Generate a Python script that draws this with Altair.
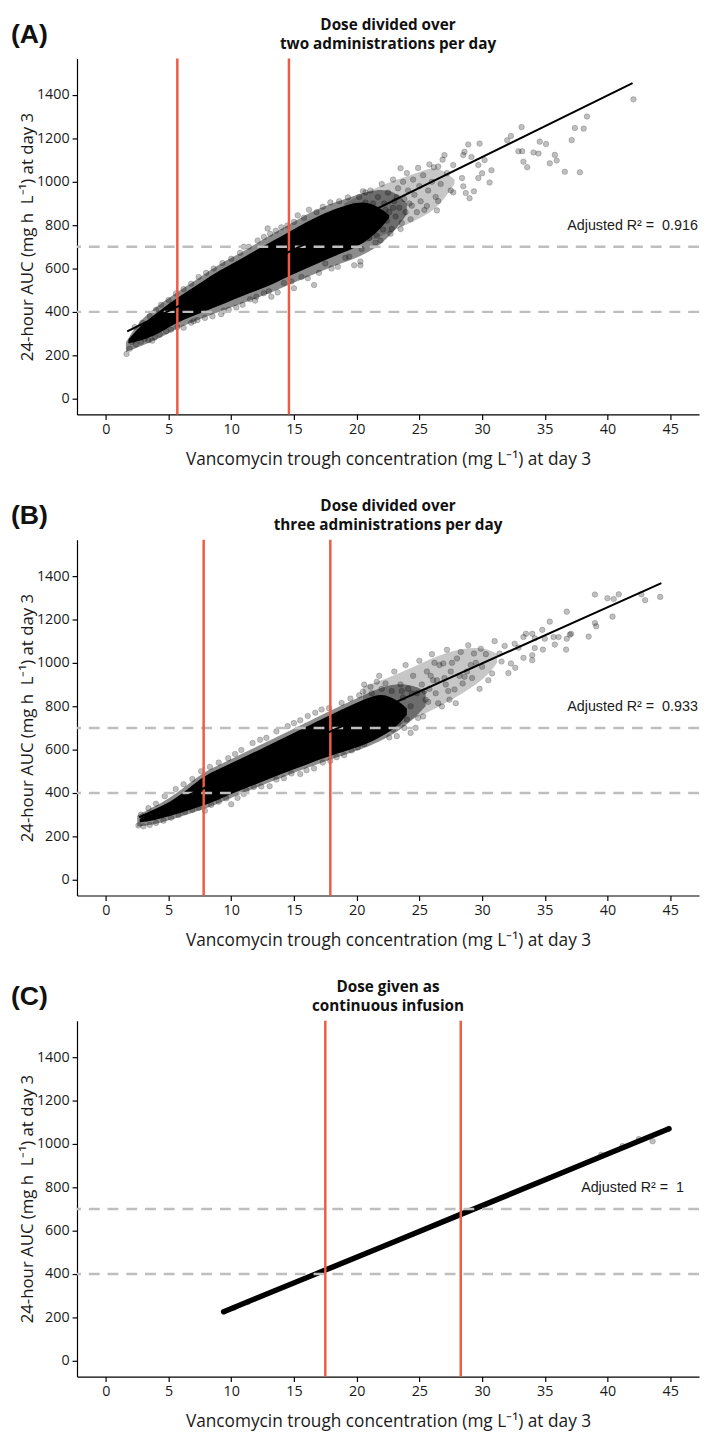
import altair as alt
import pandas as pd

# ---------------- text ----------------
x_title = "Vancomycin trough concentration (mg L\u207b\u00b9) at day 3"
y_title = "24-hour AUC (mg h \u00a0L\u207b\u00b9) at day 3"
panel_labels = ["(A)", "(B)", "(C)"]
panel_titles = [
    ["Dose divided over", "two administrations per day"],
    ["Dose divided over", "three administrations per day"],
    ["Dose given as", "continuous infusion"],
]
r2_labels = ["Adjusted R\u00b2 =\u00a0 0.916", "Adjusted R\u00b2 =\u00a0 0.933", "Adjusted R\u00b2 =\u00a0 1"]
r2_pos = [42.0, 797]

# ---------------- ticks ----------------
x_ticks = [0, 5, 10, 15, 20, 25, 30, 35, 40, 45]
y_ticks = [0, 200, 400, 600, 800, 1000, 1200, 1400]

# ---------------- reference lines ----------------
target_auc = [400, 700]
a_cut = [5.7, 14.6]
b_cut = [7.8, 17.9]
c_cut = [17.5, 28.3]

# ---------------- regression lines ----------------
a_reg_x = [1.7, 42.0]
a_reg_y = [310, 1455]
b_reg_x = [2.66, 44.3]
b_reg_y = [288, 1368]

# ---------------- cloud outlines ----------------
# saturated core (points fully overlapping)
a_core_x = [1.8, 2.5, 3.5, 4.5, 5.7, 7.0, 8.3, 9.6, 10.9, 12.2, 13.4, 14.6, 16.0, 17.5, 18.8, 20.0, 21.0, 22.0, 22.6]
a_core_lo = [255, 262, 282, 310, 352, 382, 413, 442, 474, 502, 530, 565, 600, 640, 670, 700, 735, 790, 835]
a_core_hi = [272, 322, 370, 415, 466, 512, 565, 608, 648, 692, 730, 768, 815, 858, 885, 905, 905, 875, 845]
# soft fringe around the core
a_halo_x = [1.6, 2.5, 3.5, 4.5, 5.7, 7.0, 8.3, 9.6, 10.9, 12.2, 13.4, 14.6, 16.0, 17.5, 18.8, 20.0, 21.5, 23.0, 24.0]
a_halo_lo = [215, 235, 258, 285, 325, 355, 385, 412, 440, 468, 495, 525, 560, 595, 625, 650, 690, 770, 850]
a_halo_hi = [260, 345, 398, 445, 492, 540, 592, 638, 676, 722, 765, 802, 850, 890, 915, 940, 965, 960, 900]
# thinner zone of overlapping points further out
a_mid_x = [19.0, 20.5, 22.0, 23.5, 25.0, 26.5, 27.8]
a_mid_lo = [690, 715, 750, 790, 830, 880, 990]
a_mid_hi = [900, 945, 985, 1015, 1045, 1075, 1010]

b_core_x = [2.7, 3.5, 4.4, 5.5, 6.6, 7.8, 9.0, 10.5, 12.2, 14.0, 15.8, 17.7, 19.3, 20.9, 22.0, 23.2, 24.0]
b_core_lo = [264, 270, 282, 300, 320, 342, 370, 407, 446, 487, 527, 567, 597, 628, 660, 705, 760]
b_core_hi = [280, 312, 336, 372, 420, 478, 510, 551, 598, 648, 700, 754, 798, 838, 860, 830, 790]
b_halo_x = [2.5, 3.5, 4.4, 5.5, 6.6, 7.8, 9.0, 10.5, 12.2, 14.0, 15.8, 17.7, 19.3, 20.9, 22.5, 24.2, 25.5]
b_halo_lo = [245, 252, 262, 282, 302, 325, 352, 390, 430, 470, 510, 550, 580, 612, 655, 720, 800]
b_halo_hi = [295, 328, 352, 392, 442, 496, 528, 570, 618, 668, 720, 774, 818, 860, 900, 905, 870]
b_mid_x = [20.5, 22.5, 24.5, 26.5, 28.5, 30.3, 31.2]
b_mid_lo = [640, 690, 740, 795, 860, 930, 1000]
b_mid_hi = [890, 930, 980, 1035, 1070, 1070, 1040]

# continuous infusion: points collapse onto a narrow band
c_band_x = [9.4, 12.0, 17.5, 23.2, 28.3, 35.9, 40.0, 44.9]
c_band_y = [226, 288, 418, 553, 675, 855, 953, 1070]

# ---------------- individual points (trough, AUC) ----------------
a_points = [
    (1.65, 206), (1.9, 230), (2.05, 261), (2.4, 250), (2.8, 262), (3.1, 276), (3.4, 270), (3.7, 267),
    (3.9, 282), (4.3, 295), (4.8, 310), (5.2, 318), (5.7, 330), (6.2, 327), (6.8, 350), (7.3, 362),
    (7.9, 372), (8.5, 380), (9.2, 389), (9.8, 410), (10.4, 420), (10.9, 433), (11.5, 458), (12.0, 470),
    (12.6, 486), (13.0, 495), (13.7, 490), (14.2, 533), (14.8, 540), (15.6, 561), (16.1, 555), (16.6, 524),
    (17.0, 580), (17.5, 623), (18.0, 600), (18.5, 608), (19.1, 650), (19.4, 655), (19.8, 615), (20.3, 632),
    (20.3, 615), (11.9, 452), (13.2, 470), (15.0, 509), (7.0, 357), (9.4, 405),
    (2.3, 330), (2.9, 350), (3.5, 380), (4.0, 410), (4.4, 433), (5.0, 455), (5.6, 485), (6.2, 505),
    (6.8, 530), (7.4, 561), (8.0, 580), (8.6, 600), (9.3, 625), (10.0, 645), (10.7, 672), (11.0, 700),
    (11.4, 700), (12.1, 729), (12.6, 745), (12.9, 785), (13.1, 760), (13.55, 774), (14.0, 790), (14.47, 798),
    (15.0, 815), (15.3, 845), (15.8, 834), (16.2, 871), (16.8, 860), (17.3, 885), (17.9, 905), (18.6, 910),
    (19.3, 928), (20.5, 956), (20.7, 951),
    (19.2, 700), (19.5, 760), (19.6, 840), (19.8, 890), (20.0, 720), (20.1, 800), (20.2, 930), (20.3, 860),
    (20.4, 690), (20.6, 770), (20.7, 905), (20.9, 830), (21.0, 740), (21.1, 960), (21.2, 880), (21.4, 800),
    (21.5, 720), (21.6, 751), (21.7, 930), (21.8, 850), (21.9, 729), (22.0, 990), (22.1, 780), (22.2, 900),
    (22.4, 820), (22.5, 950), (22.6, 860), (22.7, 760), (22.8, 782), (22.9, 1010), (23.0, 910), (23.1, 840),
    (23.3, 970), (23.4, 880), (23.5, 782), (23.5, 1062), (23.6, 810), (23.7, 1000), (23.8, 920), (23.9, 860),
    (24.0, 1040), (24.1, 960), (24.3, 827), (24.4, 890), (24.5, 1010), (24.6, 940), (24.8, 860), (24.9, 1064),
    (25.0, 980), (25.1, 910), (25.3, 1030), (25.4, 870), (25.6, 888), (25.7, 960), (25.8, 1080), (26.0, 1000),
    (26.15, 1067), (26.3, 930), (26.4, 868), (26.5, 911), (26.5, 1070), (26.7, 990), (26.85, 1102), (27.0, 1123),
    (27.2, 1040), (27.5, 960), (27.7, 951), (27.7, 1077),
    (20.8, 850), (21.3, 900), (22.3, 870), (23.2, 930), (24.2, 900), (19.9, 780), (21.9, 810), (22.9, 880),
    (28.4, 1017), (28.5, 979), (28.5, 1123), (28.6, 1138), (28.7, 948), (28.9, 1172), (29.0, 924), (29.15, 1114),
    (29.35, 956), (29.7, 1017), (29.7, 1077), (29.8, 1176), (30.0, 1039), (30.2, 1100), (30.6, 997), (30.75, 1053),
    (32.0, 1191), (32.3, 1211), (32.9, 1141), (33.15, 1252), (33.2, 1141), (33.3, 1092), (33.6, 1067), (34.1, 1135),
    (34.5, 1130), (34.6, 1185), (35.1, 1174), (35.4, 1085), (35.8, 1124), (35.95, 1098), (36.6, 1046), (37.15, 1192),
    (37.4, 1248), (37.8, 1044), (38.1, 1245), (38.36, 1301), (42.07, 1380),
]

b_points = [
    (2.6, 250), (3.0, 246), (3.5, 252), (4.0, 262), (4.6, 272), (5.2, 286), (5.8, 298), (6.3, 312),
    (6.9, 322), (7.4, 332), (7.9, 318), (8.4, 345), (9.0, 360), (9.6, 375), (10.0, 348), (10.5, 377),
    (11.2, 412), (11.8, 428), (12.4, 430), (13.06, 431), (13.6, 462), (14.2, 468), (14.8, 490), (15.5, 487),
    (16.0, 505), (16.6, 513), (17.3, 540), (17.9, 548), (18.4, 565), (19.0, 574), (19.6, 596), (20.1, 610),
    (20.6, 625), (8.2, 365), (11.0, 395),
    (2.8, 300), (3.4, 330), (4.0, 350), (4.7, 385), (5.57, 418), (6.2, 440), (6.9, 464), (7.6, 500),
    (8.3, 520), (9.0, 540), (9.76, 560), (10.3, 580), (10.8, 598), (11.7, 630), (12.3, 645), (12.8, 654),
    (13.6, 684), (14.5, 708), (15.0, 722), (15.5, 735), (16.1, 755), (16.7, 770), (17.2, 785), (17.8, 791),
    (18.8, 815), (19.5, 835), (20.2, 850), (20.5, 867), (21.1, 890), (21.6, 913), (22.0, 880),
    (20.0, 700), (20.3, 760), (20.6, 900), (20.8, 815), (21.0, 720), (21.2, 860), (21.5, 780), (21.8, 940),
    (22.0, 700), (22.1, 830), (22.3, 905), (22.5, 760), (22.8, 870), (23.0, 960), (23.1, 800), (23.3, 720),
    (23.5, 900), (23.7, 840), (23.9, 990), (24.0, 738), (24.1, 880), (24.3, 800), (24.5, 940), (24.7, 700),
    (24.8, 860), (24.9, 746), (25.0, 1010), (25.2, 900), (25.3, 753), (25.5, 830), (25.6, 960), (25.8, 880),
    (26.0, 1040), (26.1, 920), (26.3, 860), (26.5, 814), (26.6, 990), (26.8, 799), (26.9, 997), (27.0, 930),
    (27.2, 1060), (27.3, 870), (27.5, 960), (27.8, 877), (27.9, 814), (28.0, 1020), (28.2, 940), (28.45, 905),
    (28.6, 936), (28.9, 1081), (29.1, 990), (29.35, 1043), (29.8, 880), (29.9, 1065), (30.0, 982), (30.5, 920),
    (30.8, 951), (31.0, 1100), (31.4, 1043), (31.55, 1006), (31.8, 1078), (32.1, 953), (32.3, 997), (32.6, 1088),
    (32.65, 977), (32.9, 1070), (33.3, 1119), (33.3, 1023), (33.5, 1134), (34.0, 1134), (34.0, 1035), (34.0, 1012),
    (34.2, 1113), (34.2, 1068), (34.8, 1152), (34.85, 1061), (35.0, 1111), (35.4, 1190), (35.7, 1119), (35.8, 1084),
    (36.1, 1119), (36.7, 1061), (36.75, 1111), (36.75, 1236), (37.0, 1130), (37.1, 1134), (38.5, 1121), (39.0, 1184),
    (39.1, 1169), (39.0, 1315), (40.0, 1298), (40.4, 1213), (40.5, 1294), (40.9, 1316), (42.7, 1316), (43.0, 1289),
    (44.2, 1304),
    (25.4, 870), (25.9, 940), (26.2, 1000), (27.1, 900), (27.6, 1000), (28.3, 1050), (28.8, 960), (29.5, 1000),
    (30.3, 1040), (29.2, 930), (27.4, 830), (26.4, 920), (25.7, 820), (24.4, 860), (23.6, 870), (22.6, 820),
    (21.4, 830), (20.9, 760), (22.9, 692), (23.2, 662), (22.6, 656), (24.3, 677), (23.8, 700), (21.9, 677),
]

c_points = [
    (9.4, 226), (10.2, 244), (11.3, 270), (39.5, 950), (41.2, 990), (42.5, 1022), (43.6, 1012), (44.9, 1070),
]

# ---------------- styling ----------------
FONT = "Open Sans"
RED = "#EE5B43"
DASH_GREY = "#BEBEBE"
W, H = 631, 361

xs = alt.Scale(domain=[-2.3, 47.3], nice=False, zero=False)
ys = alt.Scale(domain=[-73, 1568], nice=False, zero=False)

x_axis = alt.Axis(values=x_ticks, grid=False, domainColor="black", domainWidth=1.2, tickColor="black",
                  tickWidth=1.2, tickSize=5, labelFontSize=14.5, labelPadding=3, labelColor="#1a1a1a",
                  labelFont=FONT, titleFont=FONT, titleFontSize=17.5, titleFontWeight="normal",
                  titleColor="#1a1a1a", titlePadding=15)
y_axis = alt.Axis(values=y_ticks, format="d", grid=False, domainColor="black", domainWidth=1.2,
                  tickColor="black", tickWidth=1.2, tickSize=5, labelFontSize=14.5, labelPadding=3,
                  labelColor="#1a1a1a", labelFont=FONT, titleFont=FONT, titleFontSize=17,
                  titleFontWeight="normal", titleColor="#1a1a1a", titlePadding=0)

X = alt.X("trough:Q", scale=xs, axis=x_axis, title=x_title)
Y = alt.Y("auc:Q", scale=ys, axis=y_axis, title=y_title)


def cloud(outline, opacity):
    df = pd.DataFrame({"trough": outline[0], "auc": outline[1], "auc_hi": outline[2]})
    return (alt.Chart(df).mark_area(color="black", opacity=opacity, interpolate="basis")
            .encode(x=X, y=Y, y2="auc_hi:Q"))


def panel(i, points, core=None, halo=None, mid=None, band=None, reg=None, cuts=None):
    layers = []
    if mid is not None:
        layers.append(cloud(mid, 0.22))
    if halo is not None:
        layers.append(cloud(halo, 0.45))
    if core is not None:
        layers.append(cloud(core, 1))
    if band is not None:
        band_df = pd.DataFrame({"trough": band[0], "auc": band[1]})
        layers.append(alt.Chart(band_df).mark_line(color="black", strokeWidth=5.5, strokeCap="round")
                      .encode(x=X, y=Y))
    pts_df = pd.DataFrame(points, columns=["trough", "auc"])
    layers.append(alt.Chart(pts_df).mark_circle(size=32, fill="black", fillOpacity=0.25, stroke="black",
                                                strokeOpacity=0.3, strokeWidth=0.6)
                  .encode(x=X, y=Y))
    layers.append(alt.Chart(pd.DataFrame({"auc": target_auc})).mark_rule(color=DASH_GREY, strokeWidth=2.5,
                                                                         strokeDash=[11, 8])
                  .encode(y=Y))
    layers.append(alt.Chart(pd.DataFrame({"trough": cuts})).mark_rule(color=RED, strokeWidth=2.5)
                  .encode(x=X))
    if reg is not None:
        reg_df = pd.DataFrame({"trough": reg[0], "auc": reg[1]})
        layers.append(alt.Chart(reg_df).mark_line(color="black", strokeWidth=2).encode(x=X, y=Y))
    layers.append(alt.Chart(pd.DataFrame({"trough": [r2_pos[0]], "auc": [r2_pos[1]], "t": [r2_labels[i]]}))
                  .mark_text(font="Liberation Sans", fontSize=14.5, color="#1a1a1a", align="center",
                             baseline="middle")
                  .encode(x=X, y=Y, text="t:N"))
    one = pd.DataFrame({"k": [0]})
    for line, yy in zip(panel_titles[i], [-34, -15]):
        layers.append(alt.Chart(one).mark_text(text=line, font=FONT, fontWeight="bold", fontSize=15.5,
                                               color="#111", align="center", baseline="middle")
                      .encode(x=alt.value(W / 2), y=alt.value(yy)))
    layers.append(alt.Chart(one).mark_text(text=panel_labels[i], font="Liberation Sans", fontWeight="bold",
                                           fontSize=27, color="#111", align="left", baseline="middle")
                  .encode(x=alt.value(-67), y=alt.value(-24)))
    return alt.layer(*layers).properties(width=W, height=H)


pA = panel(0, a_points, core=(a_core_x, a_core_lo, a_core_hi), halo=(a_halo_x, a_halo_lo, a_halo_hi),
           mid=(a_mid_x, a_mid_lo, a_mid_hi), reg=(a_reg_x, a_reg_y), cuts=a_cut)
pB = panel(1, b_points, core=(b_core_x, b_core_lo, b_core_hi), halo=(b_halo_x, b_halo_lo, b_halo_hi),
           mid=(b_mid_x, b_mid_lo, b_mid_hi), reg=(b_reg_x, b_reg_y), cuts=b_cut)
pC = panel(2, c_points, band=(c_band_x, c_band_y), cuts=c_cut)

chart = (alt.vconcat(pA, pB, pC, spacing=32)
         .properties(padding={"left": 3, "top": 0, "right": 0, "bottom": 0})
         .configure_view(stroke=None))

chart.save("out.html", embed_options={"renderer": "svg", "actions": False})
